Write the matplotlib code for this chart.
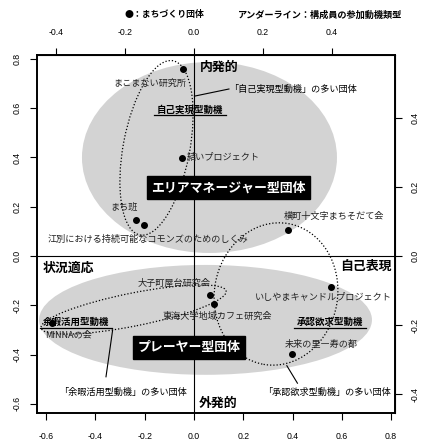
import matplotlib
matplotlib.use("Agg")
import matplotlib.pyplot as plt
from matplotlib.patches import Ellipse

plt.rcParams['font.family'] = ['Noto Sans CJK JP', 'DejaVu Sans']

# groups (points in primary coordinates)
groups = ['まこまない研究所', '結いプロジェクト', 'まち班',
          '江別における持続可能なコモンズのためのしくみ', '横町十文字まちそだて会',
          '大子町屋台研究会', '東海大学地域カフェ研究会', 'いしやまキャンドルプロジェクト',
          '未来の里―寿の都', 'MINNAの会']
gx = [-0.044, -0.048, -0.235, -0.203, 0.381, 0.065, 0.081, 0.555, 0.399, -0.577]
gy = [0.759, 0.398, 0.147, 0.126, 0.106, -0.158, -0.196, -0.124, -0.396, -0.273]

# motive types
motives = ['自己実現型動機', '承認欲求型動機', '余暇活用型動機']
motive_x = [-0.016, 0.552, -0.478]
motive_y = [0.593, -0.268, -0.268]

top_ticks = [-0.4, -0.2, 0.0, 0.2, 0.4]
right_ticks = [-0.4, -0.2, 0.0, 0.2, 0.4]
bottom_ticks = [-0.6, -0.4, -0.2, 0.0, 0.2, 0.4, 0.6, 0.8]
left_ticks = [-0.6, -0.4, -0.2, 0.0, 0.2, 0.4, 0.6, 0.8]

# label offsets from points
offs = [(-0.134, -0.057), (0.168, 0.004), (-0.048, 0.052), (0.017, -0.057),
        (0.189, 0.053), (-0.146, 0.049), (0.016, -0.047), (-0.031, -0.045),
        (0.119, 0.039), (0.067, -0.047)]

fig = plt.figure(figsize=(4.21, 4.44), dpi=100)
ax = fig.add_axes([37/421, 31/444, 358/421, 358/444])
lim = (-0.637, 0.816)
ax.set_xlim(lim)
ax.set_ylim(lim)

grey = '#d3d3d3'
ax.add_patch(Ellipse((0.063, 0.40), 1.035, 0.775, color=grey, lw=0, zorder=0))
ax.add_patch(Ellipse((0.047, -0.259), 1.351, 0.446, color=grey, lw=0, zorder=0))

ax.axhline(0, color='black', lw=0.8, zorder=1)
ax.axvline(0, color='black', lw=0.8, zorder=1)

dots = (0, (1, 1.6))
ax.add_patch(Ellipse((-0.152, 0.439), 0.27, 0.72, angle=-10.7, fill=False,
                     ls=dots, lw=0.9, ec='black', zorder=2))
ax.add_patch(Ellipse((-0.245, -0.217), 0.766, 0.134, angle=11.3, fill=False,
                     ls=dots, lw=0.9, ec='black', zorder=2))
ax.add_patch(Ellipse((0.333, -0.154), 0.50, 0.58, angle=-10, fill=False,
                     ls=dots, lw=0.9, ec='black', zorder=2))

ax.scatter(gx, gy, s=16, color='black', zorder=4)
for name, x, y, (dx, dy) in zip(groups, gx, gy, offs):
    ax.text(x + dx, y + dy, name, fontsize=6.6, ha='center', va='center',
            color='#222222', zorder=5)

for m, x, y in zip(motives, motive_x, motive_y):
    ax.text(x, y, m, fontsize=6.8, fontweight='bold', ha='center', va='center', zorder=5)
    ax.plot([x - 0.145, x + 0.145], [y - 0.022, y - 0.022], color='black', lw=0.9, zorder=5)

# leader notes
ax.text(0.142, 0.678, '「自己実現型動機」の多い団体', fontsize=6.6, ha='left', va='center')
ax.plot([0.002, 0.142], [0.649, 0.678], color='black', lw=0.8)
ax.text(0.538, -0.555, '「承認欲求型動機」の多い団体', fontsize=6.6, ha='center', va='center')
ax.plot([0.377, 0.42], [-0.445, -0.516], color='black', lw=0.8)
ax.text(-0.29, -0.551, '「余暇活用型動機」の多い団体', fontsize=6.6, ha='center', va='center')
ax.plot([-0.33, -0.357], [-0.30, -0.49], color='black', lw=0.8)

# quadrant labels
qf = dict(fontsize=9.3, fontweight='bold', va='center', zorder=6)
ax.text(0.025, 0.768, '内発的', ha='left', **qf)
ax.text(0.021, -0.597, '外発的', ha='left', **qf)
ax.text(-0.616, -0.048, '状況適応', ha='left', **qf)
ax.text(0.804, -0.04, '自己表現', ha='right', **qf)

# type boxes
bf = dict(fontsize=9.3, fontweight='bold', color='white', ha='center', va='center',
          zorder=6, bbox=dict(boxstyle='square,pad=0.35', fc='black', ec='black'))
ax.text(0.14, 0.278, 'エリアマネージャー型団体', **bf)
ax.text(-0.02, -0.37, 'プレーヤー型団体', **bf)

# axes styling
for sp in ax.spines.values():
    sp.set_linewidth(1.4)
ax.set_xticks(bottom_ticks)
ax.set_yticks(left_ticks)
ax.set_xticklabels([f'{t:.1f}' for t in bottom_ticks], family='Liberation Sans', fontsize=6.3)
ax.set_yticklabels([f'{t:.1f}' for t in left_ticks], family='Liberation Sans', fontsize=6.3,
                   rotation=90, va='center')
ax.tick_params(axis='x', length=5, width=0.8, pad=9)
ax.tick_params(axis='y', length=5, width=0.8, pad=6)

k = 246.4 / 345.0
secx = ax.secondary_xaxis('top', functions=(lambda v: v * k, lambda v: v / k))
secx.set_xticks(top_ticks)
secx.set_xticklabels([f'{t:.1f}' for t in top_ticks], family='Liberation Sans', fontsize=6.3)
secx.tick_params(length=5, width=0.8, pad=8)
secy = ax.secondary_yaxis('right', functions=(lambda v: v * k, lambda v: v / k))
secy.set_yticks(right_ticks)
secy.set_yticklabels([f'{t:.1f}' for t in right_ticks], family='Liberation Sans', fontsize=6.3,
                     rotation=90, va='center')
secy.tick_params(length=5, width=0.8, pad=6)

fig.text(164.5/421, 1 - 15/444, '●：まちづくり団体', fontsize=6.4, fontweight='bold',
         ha='center', va='center', family=['Noto Sans CJK JP', 'DejaVu Sans'])
fig.text(320.5/421, 1 - 15/444, 'アンダーライン：構成員の参加動機類型', fontsize=6.6,
         fontweight='bold', ha='center', va='center')

fig.savefig('out.png', dpi=100)
